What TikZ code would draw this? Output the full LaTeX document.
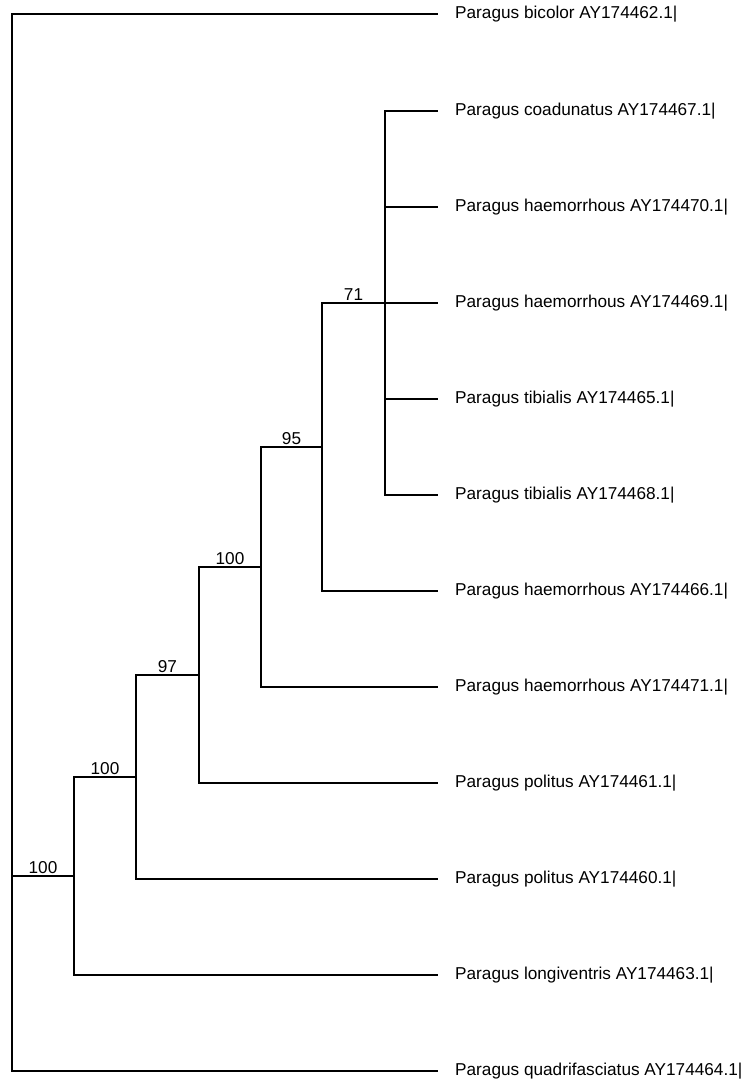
\documentclass[tikz,border=0pt]{standalone}
\usepackage{fontspec}
\setmainfont{Liberation Sans}
\tikzset{
  leaf/.style={anchor=west,inner xsep=17pt,inner ysep=0pt,font=\fontsize{17.2}{20}\selectfont},
  support/.style={above,inner sep=1.5pt,font=\fontsize{17.2}{20}\selectfont},
  branch/.style={line width=1.1pt}
}
\begin{document}
\begin{tikzpicture}[x=1pt,y=-1pt]
  \useasboundingbox (0,0) rectangle (753,1086);
  % tips
  \node[leaf] (l1) at (438,14) {Paragus bicolor AY174462.1|};
  \node[leaf] (l2) at (438,111) {Paragus coadunatus AY174467.1|};
  \node[leaf] (l3) at (438,207) {Paragus haemorrhous AY174470.1|};
  \node[leaf] (l4) at (438,303) {Paragus haemorrhous AY174469.1|};
  \node[leaf] (l5) at (438,399) {Paragus tibialis AY174465.1|};
  \node[leaf] (l6) at (438,495) {Paragus tibialis AY174468.1|};
  \node[leaf] (l7) at (438,591) {Paragus haemorrhous AY174466.1|};
  \node[leaf] (l8) at (438,687) {Paragus haemorrhous AY174471.1|};
  \node[leaf] (l9) at (438,783) {Paragus politus AY174461.1|};
  \node[leaf] (l10) at (438,879) {Paragus politus AY174460.1|};
  \node[leaf] (l11) at (438,975) {Paragus longiventris AY174463.1|};
  \node[leaf] (l12) at (438,1071) {Paragus quadrifasciatus AY174464.1|};
  % inner nodes
  \coordinate (nA) at (385,303);
  \coordinate (nB) at (322,447);
  \coordinate (nC) at (261,567);
  \coordinate (nD) at (199,675);
  \coordinate (nE) at (136,777);
  \coordinate (nF) at (74,876);
  \coordinate (root) at (12,876);
  % branches
  \draw[branch] (nA) |- (l2.west) (nA) |- (l3.west) (nA) |- (l4.west)
    (nA) |- (l5.west) (nA) |- (l6.west);
  \draw[branch] (nB) |- (nA) node[support,pos=0.75] {71};
  \draw[branch] (nB) |- (l7.west);
  \draw[branch] (nC) |- (nB) node[support,pos=0.75] {95};
  \draw[branch] (nC) |- (l8.west);
  \draw[branch] (nD) |- (nC) node[support,pos=0.75] {100};
  \draw[branch] (nD) |- (l9.west);
  \draw[branch] (nE) |- (nD) node[support,pos=0.75] {97};
  \draw[branch] (nE) |- (l10.west);
  \draw[branch] (nF) |- (nE) node[support,pos=0.75] {100};
  \draw[branch] (nF) |- (l11.west);
  \draw[branch] (root) -- (nF) node[support,pos=0.5] {100};
  \draw[branch] (root) |- (l1.west) (root) |- (l12.west);
\end{tikzpicture}
\end{document}
